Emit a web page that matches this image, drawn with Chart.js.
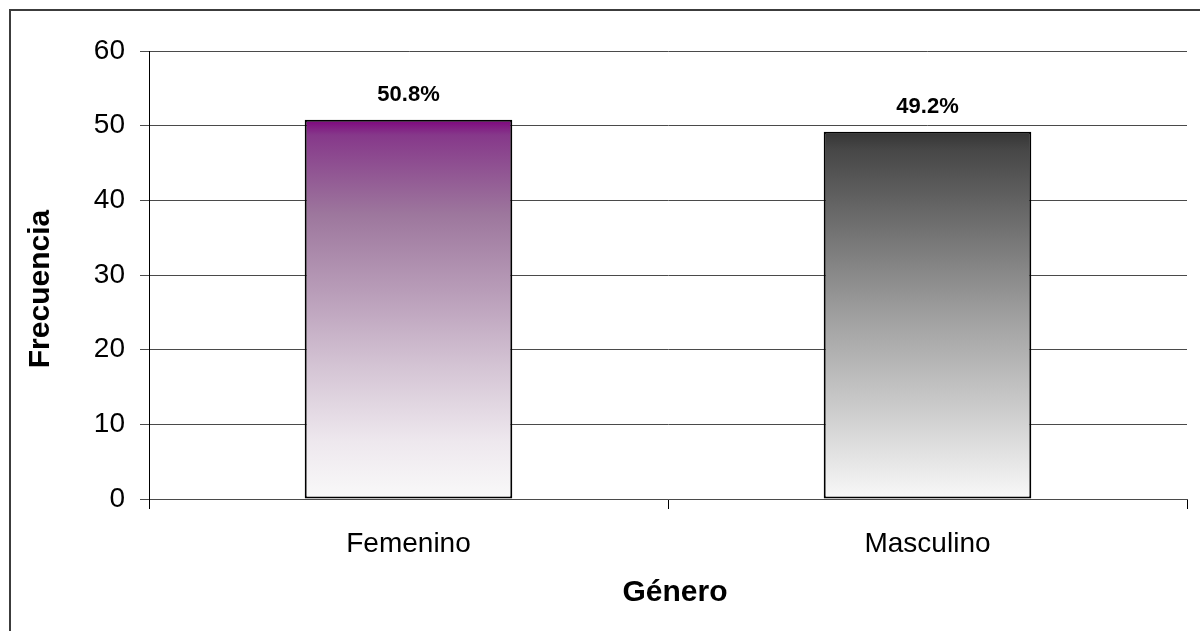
<!DOCTYPE html>
<html lang="es">
<head>
<meta charset="utf-8">
<title>Frecuencia por género</title>
<script src="https://cdn.jsdelivr.net/npm/chart.js@4.4.1/dist/chart.umd.min.js"></script>
<style>
  html, body { margin: 0; padding: 0; background: #fff; overflow: hidden; }
  #wrap { position: relative; width: 1200px; height: 631px; }
  #frame { position: absolute; left: 9px; top: 9px; width: 1250px; height: 700px;
           border: 2px solid #3c3c3c; box-sizing: border-box; }
  #chart { position: absolute; left: 0; top: 0; }
</style>
</head>
<body>
<div id="wrap">
  <div id="frame"></div>
  <canvas id="chart" width="1200" height="631"></canvas>
</div>
<script>
// Data
const categories = ['Femenino', 'Masculino'];
const frequencies = [50.8, 49.2];
const percentLabels = ['50.8%', '49.2%'];
const yMin = 0, yMax = 60, yStep = 10;
const yTitle = 'Frecuencia';
const xTitle = 'Género';

// Gradient colour stops (top of bar -> base)
const gradientStops = [
  [[0, '#7e047e'], [0.04, '#86388a'], [0.25, '#9d779d'], [0.45, '#b89cb8'], [0.65, '#d4c4d4'], [0.85, '#eee8ee'], [1, '#f9f9f9']],
  [[0, '#343434'], [0.05, '#474747'], [0.3, '#787878'], [0.5, '#9f9f9f'], [0.75, '#cbcbcb'], [1, '#f8f8f8']]
];

const FONT = "'Liberation Sans', Arial, sans-serif";

function barGradient(ctx) {
  const chart = ctx.chart;
  const yScale = chart.scales.y;
  if (!chart.chartArea || !yScale || ctx.type !== 'data') return '#888';
  const top = yScale.getPixelForValue(frequencies[ctx.dataIndex]);
  const bottom = yScale.getPixelForValue(0);
  const g = chart.ctx.createLinearGradient(0, top, 0, bottom);
  gradientStops[ctx.dataIndex].forEach(([o, c]) => g.addColorStop(o, c));
  return g;
}

// Value labels above bars and the two axis titles
const annotations = {
  id: 'annotations',
  afterDatasetsDraw(chart) {
    const ctx = chart.ctx;
    const meta = chart.getDatasetMeta(0);
    ctx.save();
    ctx.fillStyle = '#000';
    ctx.textAlign = 'center';
    ctx.textBaseline = 'middle';
    ctx.font = 'bold 22px ' + FONT;
    meta.data.forEach((bar, i) => {
      ctx.fillText(percentLabels[i], bar.x, bar.y - 24.5);
    });
    ctx.font = 'bold 30px ' + FONT;
    ctx.fillText(xTitle, 675, 593);
    ctx.translate(41, 289);
    ctx.rotate(-Math.PI / 2);
    ctx.fillText(yTitle, 0, 0);
    ctx.restore();
  }
};

new Chart(document.getElementById('chart'), {
  type: 'bar',
  data: {
    labels: categories,
    datasets: [{
      data: frequencies,
      backgroundColor: barGradient,
      borderColor: '#000',
      borderWidth: 2,
      borderSkipped: false,
      barPercentage: 0.4,
      categoryPercentage: 1
    }]
  },
  options: {
    responsive: false,
    animation: false,
    devicePixelRatio: 1,
    layout: { padding: { left: 0, top: 51, right: 13, bottom: 0 } },
    plugins: { legend: { display: false }, tooltip: { enabled: false } },
    scales: {
      x: {
        afterFit(scale) { scale.height = 132; },
        grid: { offset: true, drawOnChartArea: false, drawTicks: true, tickLength: 10, color: '#000', lineWidth: 1 },
        border: { display: true, color: '#4a4a4a', width: 1 },
        ticks: { color: '#000', font: { family: FONT, size: 28 }, padding: 18, maxRotation: 0 }
      },
      y: {
        min: yMin, max: yMax,
        afterFit(scale) { scale.width = 149; },
        grid: { color: '#4a4a4a', lineWidth: 1, tickLength: 9, tickColor: '#4a4a4a' },
        border: { display: true, color: '#000', width: 1 },
        ticks: { stepSize: yStep, color: '#000', font: { family: FONT, size: 28 }, padding: 15 }
      }
    }
  },
  plugins: [annotations]
});
</script>
</body>
</html>
